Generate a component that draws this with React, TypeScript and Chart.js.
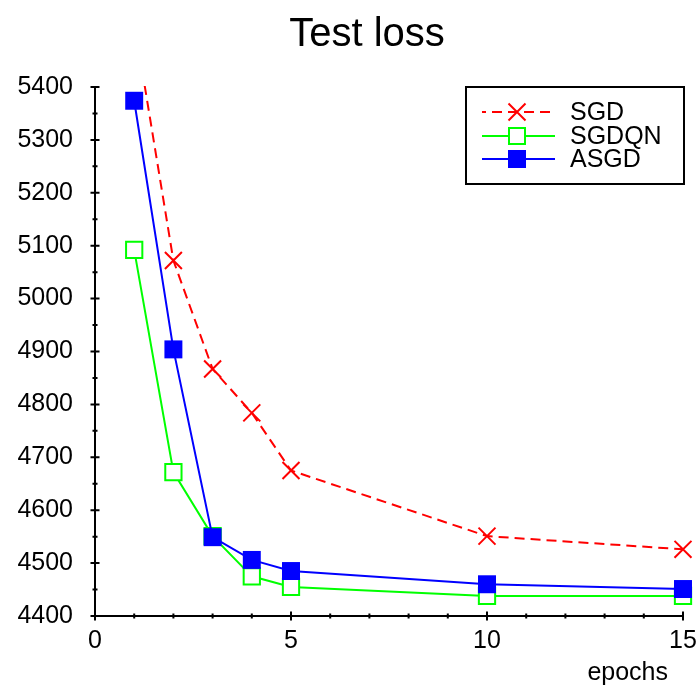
import React, { useEffect, useRef } from 'react';
import { Chart, registerables } from 'chart.js';

Chart.register(...registerables);

const TITLE = 'Test loss';
const X_LABEL = 'epochs';
const EPOCHS = [1, 2, 3, 4, 5, 10, 15];
const SGD = [5523, 5072, 4867, 4784, 4675, 4551, 4526];
const SGDQN = [5092, 4672, 4551, 4475, 4455, 4438, 4438];
const ASGD = [5374, 4904, 4549, 4506, 4485, 4460, 4451];
const SERIES_NAMES = ['SGD', 'SGDQN', 'ASGD'];
const X_MIN = 0;
const X_MAX = 15;
const Y_MIN = 4400;
const Y_MAX = 5400;

const FONT = '"Liberation Sans", Arial, Helvetica, sans-serif';

const toPoints = (ys: number[]) => EPOCHS.map((x, i) => ({ x, y: ys[i] }));

function drawMarker(ctx: CanvasRenderingContext2D, kind: string, x: number, y: number, color: string) {
  ctx.save();
  ctx.setLineDash([]);
  ctx.lineWidth = 2;
  ctx.strokeStyle = color;
  if (kind === 'cross') {
    const h = 8.5;
    ctx.beginPath();
    ctx.moveTo(x - h, y - h); ctx.lineTo(x + h, y + h);
    ctx.moveTo(x - h, y + h); ctx.lineTo(x + h, y - h);
    ctx.stroke();
  } else if (kind === 'open') {
    ctx.fillStyle = '#fff';
    ctx.fillRect(x - 8, y - 8, 16, 16);
    ctx.strokeRect(x - 8, y - 8, 16, 16);
  } else {
    ctx.fillStyle = color;
    ctx.fillRect(x - 9, y - 9, 18, 18);
  }
  ctx.restore();
}

const gnuplotPlugin = {
  id: 'gnuplotDecor',
  beforeDatasetsDraw(chart: any) {
    const { ctx, chartArea: a, scales } = chart;
    const xs = scales.x;
    const ys = scales.y;
    ctx.save();
    ctx.strokeStyle = '#000';
    ctx.lineWidth = 2;
    ctx.beginPath();
    ctx.moveTo(a.left, a.top);
    ctx.lineTo(a.left, a.bottom);
    ctx.lineTo(a.right, a.bottom);
    ctx.stroke();
    ctx.beginPath();
    ys.ticks.forEach((t: any) => {
      const p = ys.getPixelForValue(t.value);
      const L = t.value % 100 === 0 ? 4.5 : 2.5;
      ctx.moveTo(a.left - L, p);
      ctx.lineTo(a.left + L, p);
    });
    xs.ticks.forEach((t: any) => {
      const p = xs.getPixelForValue(t.value);
      const L = t.value % 5 === 0 ? 4.5 : 2.5;
      ctx.moveTo(p, a.bottom - L);
      ctx.lineTo(p, a.bottom + L);
    });
    ctx.stroke();
    ctx.restore();
  },
  afterDraw(chart: any) {
    const { ctx } = chart;
    ctx.save();
    ctx.fillStyle = '#000';
    ctx.font = `40px ${FONT}`;
    ctx.textAlign = 'center';
    ctx.textBaseline = 'alphabetic';
    ctx.fillText(TITLE, 367, 46);

    ctx.font = `25px ${FONT}`;
    ctx.textAlign = 'right';
    ctx.fillText(X_LABEL, 668, 680);

    // legend box
    const bx = 466, by = 87, bw = 218, bh = 97;
    ctx.fillStyle = '#fff';
    ctx.fillRect(bx, by, bw, bh);
    ctx.strokeStyle = '#000';
    ctx.lineWidth = 2;
    ctx.strokeRect(bx, by, bw, bh);
    const rowsY = [112, 136, 159];
    const kinds = ['cross', 'open', 'filled'];
    chart.data.datasets
      .slice()
      .sort((d1: any, d2: any) => SERIES_NAMES.indexOf(d1.label) - SERIES_NAMES.indexOf(d2.label))
      .forEach((ds: any, i: number) => {
        const yy = rowsY[i];
        ctx.save();
        ctx.strokeStyle = ds.borderColor;
        ctx.lineWidth = 2;
        if (ds.borderDash && ds.borderDash.length) {
          ctx.setLineDash([10, 6]);
          ctx.lineDashOffset = -10;
        }
        ctx.beginPath();
        ctx.moveTo(482, yy);
        ctx.lineTo(555, yy);
        ctx.stroke();
        ctx.restore();
        drawMarker(ctx, kinds[i], 517, yy, ds.borderColor);
        ctx.fillStyle = '#000';
        ctx.font = `25px ${FONT}`;
        ctx.textAlign = 'left';
        ctx.textBaseline = 'middle';
        ctx.fillText(ds.label, 570, yy + 1);
      });
    ctx.restore();
  },
};

export default function App() {
  const ref = useRef<HTMLCanvasElement | null>(null);

  useEffect(() => {
    if (!ref.current) return;
    const chart = new Chart(ref.current, {
      type: 'line',
      data: {
        datasets: [
          {
            label: SERIES_NAMES[0],
            data: toPoints(SGD),
            borderColor: '#ff0000',
            backgroundColor: '#ff0000',
            borderWidth: 2,
            borderDash: [10, 6],
            pointStyle: 'crossRot',
            pointRadius: 12,
            pointBorderWidth: 2,
            pointBorderColor: '#ff0000',
            tension: 0,
            fill: false,
            clip: { top: 1, left: false, right: false, bottom: false },
          },
          {
            label: SERIES_NAMES[2],
            data: toPoints(ASGD),
            borderColor: '#0000ff',
            backgroundColor: '#0000ff',
            borderWidth: 2,
            pointStyle: 'rect',
            pointRadius: 12.7,
            pointBorderWidth: 0,
            pointBackgroundColor: '#0000ff',
            tension: 0,
            fill: false,
            clip: false,
          },
          {
            label: SERIES_NAMES[1],
            data: toPoints(SGDQN),
            borderColor: '#00ff00',
            backgroundColor: '#ffffff',
            borderWidth: 2,
            pointStyle: 'rect',
            pointRadius: 11.5,
            pointBorderWidth: 2,
            pointBorderColor: '#00ff00',
            pointBackgroundColor: '#ffffff',
            tension: 0,
            fill: false,
            clip: false,
          },
        ],
      },
      options: {
        responsive: false,
        animation: false,
        events: [],
        layout: { padding: { top: 87, right: 13, left: 0, bottom: 0 } },
        plugins: {
          legend: { display: false },
          title: { display: false },
          tooltip: { enabled: false },
        },
        scales: {
          x: {
            type: 'linear',
            min: X_MIN,
            max: X_MAX,
            grid: { display: false, drawTicks: false, tickLength: 0 },
            border: { display: false },
            ticks: {
              stepSize: 1,
              autoSkip: false,
              maxRotation: 0,
              padding: 10,
              color: '#000',
              font: { family: FONT, size: 25 },
              callback: (v: any) => (Number(v) % 5 === 0 ? String(v) : ''),
            },
            afterFit: (s: any) => {
              s.height = 72;
              s.paddingRight = 13;
            },
          },
          y: {
            type: 'linear',
            min: Y_MIN,
            max: Y_MAX,
            grid: { display: false, drawTicks: false, tickLength: 0 },
            border: { display: false },
            ticks: {
              stepSize: 50,
              autoSkip: false,
              padding: 22,
              color: '#000',
              font: { family: FONT, size: 25 },
              callback: (v: any) => (Number(v) % 100 === 0 ? String(v) : ''),
            },
            afterFit: (s: any) => {
              s.width = 95;
            },
          },
        },
      },
      plugins: [gnuplotPlugin],
    });
    return () => chart.destroy();
  }, []);

  return (
    <div style={{ position: 'fixed', left: 0, top: 0, width: 697, height: 688, background: '#fff' }}>
      <canvas ref={ref} width={697} height={688} style={{ display: 'block' }} />
    </div>
  );
}
